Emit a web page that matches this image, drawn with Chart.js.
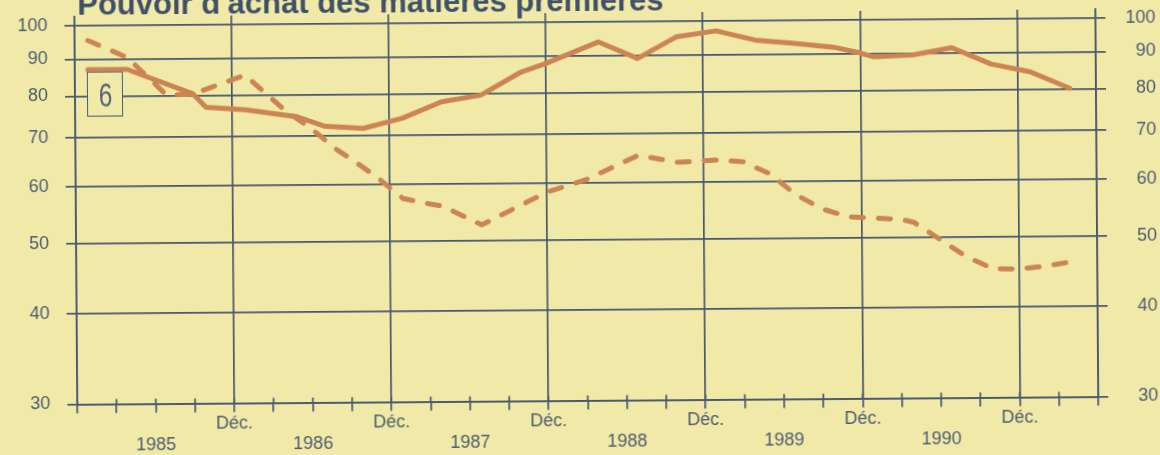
<!DOCTYPE html>
<html lang="fr">
<head>
<meta charset="utf-8">
<title>Pouvoir d'achat des matières premières</title>
<script src="https://cdn.jsdelivr.net/npm/chart.js@4.4.1/dist/chart.umd.min.js"></script>
<style>
  html, body { margin: 0; padding: 0; background: #f1e9a8; overflow: hidden; }
  #frame {
    position: relative; width: 1160px; height: 455px;
    transform: rotate(-0.43deg); transform-origin: 580px 227.5px;
  }
  #chart { position: absolute; left: 0; top: 0; }
  #titre {
    position: absolute; left: 79px; top: -17px; line-height: 1;
    font: bold 31px "Liberation Sans", Arial, sans-serif; color: #3f5069; white-space: nowrap;
  }
  #panneau {
    position: absolute; left: 88px; top: 68px; width: 34px; height: 43px;
    border: 1.5px solid #4d5e73; background: #f1e9a8;
    display: flex; align-items: center; justify-content: center;
  }
  #panneau span {
    font: 34px "Liberation Sans", Arial, sans-serif; color: #56667c;
    transform: scaleX(0.72); display: inline-block; line-height: 1;
  }
</style>
</head>
<body>
<div id="frame">
  <canvas id="chart" width="1160" height="455"></canvas>
  <div id="titre">Pouvoir d'achat des matières premières</div>
  <div id="panneau"><span>6</span></div>
</div>
<script>
// months counted from Dec. 1984 (0) to June 1991 (78)
const solidMonths = [1, 4, 9, 10, 13, 17, 19, 22, 25, 28, 31, 34, 36, 40, 43, 46, 49, 52, 55, 58, 60, 61, 64, 67, 70, 73, 76];
const solidValues = [87, 87, 80.4, 77, 76.3, 74.5, 72.3, 71.7, 74, 77.9, 79.5, 85.3, 87.8, 93.9, 89, 95.3, 97, 94.1, 93, 91.8, 90.1, 89, 89.4, 91.4, 86.7, 84.5, 80.1];

const dashMonths = [1, 4, 7, 9, 13, 16, 18, 20, 21, 23, 25, 27, 28, 31, 36, 39, 43, 46, 49, 51, 53, 55, 57, 59, 63, 64, 68, 70, 72, 74, 76];
const dashValues = [95.5, 90.4, 80.1, 80.3, 85.2, 76.2, 71.8, 67, 65.2, 61.4, 57.3, 56.3, 55.9, 52.6, 58.3, 60.6, 65.4, 63.9, 64.3, 63.9, 61.5, 57.5, 54.9, 53.5, 53, 52.5, 47, 45.2, 45.1, 45.5, 46.1];

const yTicks = [30, 40, 50, 60, 70, 80, 90, 100];
const quarterMonths = [0, 3, 6, 9, 12, 15, 18, 21, 24, 27, 30, 33, 36, 39, 42, 45, 48, 51, 54, 57, 60, 63, 66, 69, 72, 75, 78];
const decMonths = [12, 24, 36, 48, 60, 72];
const yearMonths = [6, 18, 30, 42, 54, 66];
const yearLabels = ['1985', '1986', '1987', '1988', '1989', '1990'];

const gridColor = '#45586e';
const lineColor = '#cc8552';
const textColor = '#4c5c70';
const tickFont = { family: '"Liberation Sans", Arial, sans-serif', size: 18 };

// short tick marks poking above the bottom axis
const tickStubs = {
  id: 'tickStubs',
  afterDraw(chart) {
    const s = chart.scales.x;
    const ctx = chart.ctx;
    ctx.save();
    ctx.strokeStyle = gridColor;
    ctx.lineWidth = 1.7;
    s.ticks.forEach(t => {
      const px = s.getPixelForValue(t.value);
      ctx.beginPath();
      ctx.moveTo(px, s.top - 5);
      ctx.lineTo(px, s.top);
      ctx.stroke();
    });
    ctx.restore();
  }
};

// no extra room for overhanging labels, the layout is fixed by hand
function noPadding(s) {
  s.paddingTop = 0;
  s.paddingBottom = 0;
  s.paddingLeft = 0;
  s.paddingRight = 0;
}

const yAxis = (position) => ({
  type: 'logarithmic',
  position: position,
  min: 30,
  max: 103,
  afterBuildTicks: s => { s.ticks = yTicks.map(v => ({ value: v })); },
  ticks: {
    autoSkip: false,
    padding: position === 'left' ? 17 : 5,
    crossAlign: position === 'left' ? 'near' : 'far',
    color: textColor,
    font: tickFont,
    callback: v => String(v)
  },
  grid: {
    color: gridColor,
    lineWidth: 1.7,
    tickLength: 10,
    drawOnChartArea: position === 'left'
  },
  border: { color: gridColor, width: 1.7 },
  afterFit: s => { s.width = position === 'left' ? 76 : 60; noPadding(s); }
});

new Chart(document.getElementById('chart').getContext('2d'), {
  type: 'line',
  data: {
    datasets: [
      {
        label: 'pointillé',
        data: dashMonths.map((m, i) => ({ x: m, y: dashValues[i] })),
        borderColor: lineColor,
        borderWidth: 5,
        borderDash: [12, 15],
        borderCapStyle: 'round',
        borderJoinStyle: 'round',
        pointRadius: 0,
        fill: false,
        tension: 0
      },
      {
        label: 'continu',
        data: solidMonths.map((m, i) => ({ x: m, y: solidValues[i] })),
        borderColor: lineColor,
        borderWidth: 5,
        borderCapStyle: 'round',
        borderJoinStyle: 'round',
        pointRadius: 0,
        fill: false,
        tension: 0
      }
    ]
  },
  options: {
    responsive: false,
    animation: false,
    devicePixelRatio: 1,
    layout: { padding: { top: 13, right: 3, bottom: 1.5, left: 0 } },
    plugins: { legend: { display: false }, tooltip: { enabled: false } },
    scales: {
      x: {
        type: 'linear',
        position: 'bottom',
        min: 0,
        max: 78,
        afterBuildTicks: s => { s.ticks = quarterMonths.map(v => ({ value: v })); },
        ticks: {
          autoSkip: false,
          maxRotation: 0,
          padding: 1,
          color: textColor,
          font: tickFont,
          callback: v => decMonths.includes(v) ? 'Déc.' : ''
        },
        grid: {
          color: c => (c.tick && (c.tick.value % 12 === 0 || c.tick.value === 78)) ? gridColor : 'rgba(0,0,0,0)',
          tickColor: gridColor,
          lineWidth: 1.7,
          tickLength: 9
        },
        border: { color: gridColor, width: 1.7 },
        afterFit: s => { s.height = 31; noPadding(s); }
      },
      x2: {
        type: 'linear',
        position: 'bottom',
        min: 0,
        max: 78,
        afterBuildTicks: s => { s.ticks = yearMonths.map(v => ({ value: v })); },
        ticks: {
          autoSkip: false,
          maxRotation: 0,
          padding: 0,
          color: textColor,
          font: tickFont,
          callback: v => yearLabels[yearMonths.indexOf(v)]
        },
        grid: { display: false, drawTicks: false },
        border: { display: false },
        afterFit: s => { s.height = 22; noPadding(s); }
      },
      y: yAxis('left'),
      y2: yAxis('right')
    }
  },
  plugins: [tickStubs]
});
</script>
</body>
</html>
